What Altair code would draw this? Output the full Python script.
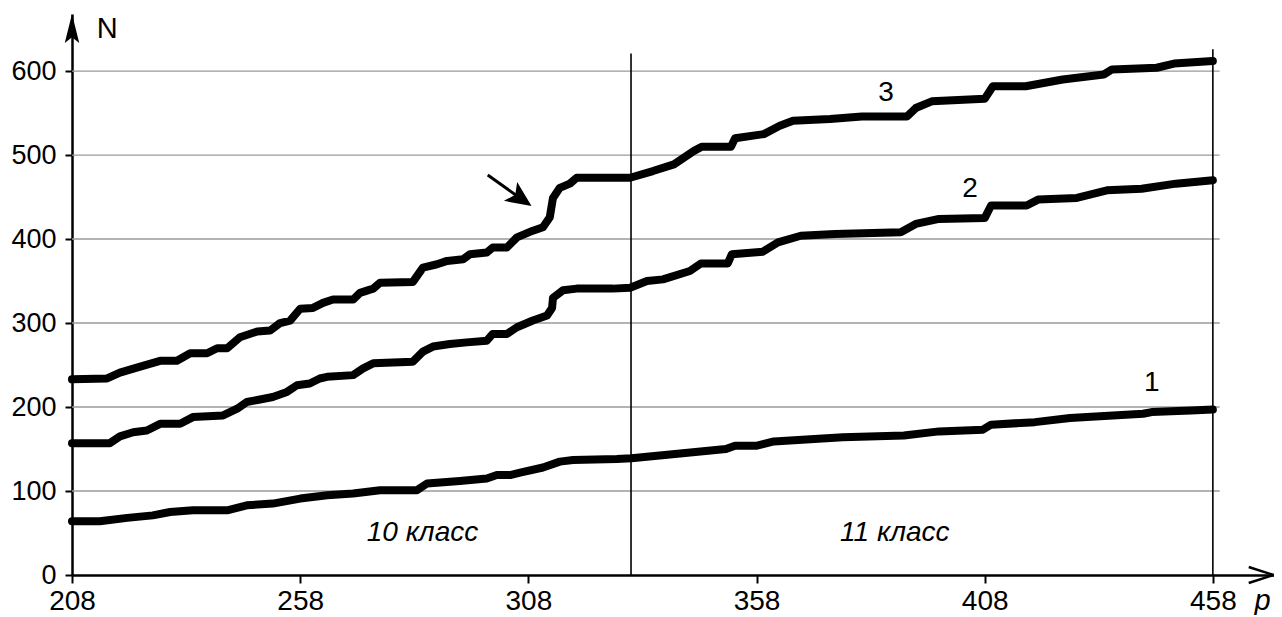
import altair as alt
import pandas as pd

# ---------------- data ----------------
P1 = [208.0, 214.1, 220.1, 225.7, 229.5, 234.5, 242.0, 246.3, 252.0, 258.0, 263.9, 269.6,
      275.5, 283.6, 285.8, 293.0, 298.9, 301.1, 304.0, 306.2, 311.2, 314.9, 317.8, 327.4,
      330.6, 337.9, 351.3, 353.3, 358.1, 361.8, 376.9, 390.3, 398.0, 407.6, 409.4, 419.0,
      426.7, 436.1, 442.7, 444.6, 453.2, 458.0]
N1 = [64, 64, 68, 71, 75, 77, 77, 83, 85, 91, 95, 97,
      101, 101, 109, 112, 115, 119, 119, 122, 128, 135, 137, 138,
      139, 143, 150, 154, 154, 159, 164, 166, 171, 173, 179, 182,
      187, 190, 192, 194, 196, 197]

P2 = [208.0, 216.3, 218.5, 221.4, 224.4, 227.3, 231.7, 234.5, 241.1, 244.2, 246.3, 249.2,
      252.0, 255.1, 257.3, 260.1, 262.3, 263.9, 269.6, 271.8, 274.0, 282.7, 284.9, 287.1,
      290.8, 294.5, 298.9, 300.2, 303.3, 305.5, 309.0, 312.1, 313.2, 313.4, 315.6, 318.6,
      326.5, 330.3, 334.0, 337.5, 343.4, 345.8, 351.7, 352.6, 359.4, 362.7, 367.7, 375.2,
      389.6, 392.9, 398.0, 408.0, 409.4, 417.2, 419.7, 428.2, 434.8, 442.4, 449.9, 458.0]
N2 = [157, 157, 165, 170, 172, 180, 180, 188, 190, 198, 206, 209,
      212, 218, 226, 228, 234, 236, 238, 246, 252, 254, 266, 272,
      275, 277, 279, 287, 287, 295, 303, 309, 318, 330, 339, 341,
      341, 342, 350, 352, 362, 371, 371, 382, 385, 396, 404, 406,
      408, 418, 424, 425, 440, 440, 447, 449, 458, 460, 466, 470]

P3 = [208.0, 215.7, 218.5, 222.2, 227.3, 231.0, 233.9, 237.6, 239.8, 242.0, 244.8, 248.6,
      251.4, 253.6, 255.8, 258.0, 260.8, 263.0, 265.2, 269.6, 271.1, 274.0, 275.5, 282.7,
      284.9, 288.0, 290.2, 293.7, 295.2, 298.9, 300.2, 303.3, 305.5, 309.0, 311.2, 312.7,
      313.4, 314.9, 317.1, 318.6, 330.3, 335.3, 339.9, 344.3, 346.0, 352.4, 353.3, 359.6,
      363.1, 366.0, 374.1, 381.1, 391.0, 392.9, 396.4, 408.0, 409.8, 417.0, 425.1, 434.1,
      435.9, 445.7, 449.5, 458.0]
N3 = [233, 234, 241, 247, 255, 255, 264, 264, 270, 270, 283, 290,
      291, 300, 303, 317, 318, 324, 328, 328, 336, 341, 348, 349,
      366, 370, 374, 376, 382, 384, 390, 390, 402, 410, 414, 426,
      449, 461, 466, 473, 473, 481, 489, 505, 510, 510, 520, 525,
      535, 541, 543, 546, 546, 556, 564, 567, 582, 582, 590, 596,
      602, 604, 609, 612]

X_TICKS = [208, 258, 308, 358, 408, 458]
Y_TICKS = [0, 100, 200, 300, 400, 500, 600]
SERIES_NAMES = ["1", "2", "3"]
CLASS_LABELS = ["10 класс", "11 класс"]
CLASS_BOUNDARY = 330.5
P_LAST = 458
AXIS_X_NAME = "p"
AXIS_Y_NAME = "N"

# ---------------- layout ----------------
FONT = "Liberation Sans"
X_DOMAIN = [208, 471.4]
Y_DOMAIN = [0, 668]

xs = alt.Scale(domain=X_DOMAIN, nice=False, zero=False)
ys = alt.Scale(domain=Y_DOMAIN, nice=False, zero=False)

x_axis = alt.Axis(values=X_TICKS, title=None, grid=False, labelFont=FONT, labelFontSize=28,
                  labelColor="black", tickColor="black", tickSize=8, tickWidth=2,
                  domainColor="black", domainWidth=2.5, labelPadding=4,
                  labelFlush=False, labelOverlap=False)
y_axis = alt.Axis(values=Y_TICKS, title=None, grid=False, labelFont=FONT, labelFontSize=27,
                  labelColor="black", tickColor="black", tickSize=7, tickWidth=2,
                  domainColor="black", domainWidth=2.5, labelPadding=9,
                  labelOverlap=False)


def X(field):
    return alt.X(f"{field}:Q", scale=xs, axis=x_axis)


def Y(field):
    return alt.Y(f"{field}:Q", scale=ys, axis=y_axis)


rows = []
for name, ps, ns in zip(SERIES_NAMES, [P1, P2, P3], [N1, N2, N3]):
    for p, n in zip(ps, ns):
        rows.append({"p": p, "N": n, "s": name})
series_df = pd.DataFrame(rows)

grid_df = pd.DataFrame({"N": Y_TICKS[1:], "p": [208] * 6, "p2": [459.5] * 6})
grid = alt.Chart(grid_df).mark_rule(color="#9a9a9a", strokeWidth=1.4).encode(
    x=X("p"), x2="p2", y=Y("N"))

vlines_df = pd.DataFrame({"p": [CLASS_BOUNDARY, P_LAST], "N": [0, 0], "N2": [621, 626]})
vlines = alt.Chart(vlines_df).mark_rule(color="black", strokeWidth=1.6).encode(
    x=X("p"), y=Y("N"), y2="N2")

lines = alt.Chart(series_df).mark_line(color="black", strokeWidth=8, strokeJoin="round",
                                       strokeCap="round").encode(
    x=X("p"), y=Y("N"), detail="s:N", order="p:Q")

# series numbers
num_df = pd.DataFrame({"p": [444.6, 404.8, 386.4], "N": [229, 460, 574], "t": SERIES_NAMES})
nums = alt.Chart(num_df).mark_text(font=FONT, fontSize=28, color="black",
                                   baseline="middle", align="center").encode(
    x=X("p"), y=Y("N"), text="t:N")

cls_df = pd.DataFrame({"p": [284.8, 388.3], "N": [50, 50], "t": CLASS_LABELS})
cls = alt.Chart(cls_df).mark_text(font=FONT, fontSize=28, fontStyle="italic", color="black",
                                  baseline="middle", align="center").encode(
    x=X("p"), y=Y("N"), text="t:N")

nlab_df = pd.DataFrame({"p": [215.7], "N": [650], "t": [AXIS_Y_NAME]})
nlab = alt.Chart(nlab_df).mark_text(font=FONT, fontSize=29, color="black",
                                    baseline="middle", align="center").encode(
    x=X("p"), y=Y("N"), text="t:N")

plab_df = pd.DataFrame({"p": [468.9], "N": [-31], "t": [AXIS_X_NAME]})
plab = alt.Chart(plab_df).mark_text(font=FONT, fontSize=29, fontStyle="italic", color="black",
                                    baseline="middle", align="center").encode(
    x=X("p"), y=Y("N"), text="t:N")

# axis arrowheads
yarrow_df = pd.DataFrame({"p": [208], "N": [650.6]})
yarrow = alt.Chart(yarrow_df).mark_point(
    shape="M0,-1L0.5,1L0,0.6L-0.5,1Z", size=841, filled=True, color="black",
    opacity=1, strokeWidth=0).encode(x=X("p"), y=Y("N"))

xarrow_df = pd.DataFrame({"p": [468.6], "N": [0]})
xarrow = alt.Chart(xarrow_df).mark_point(
    shape="M-1,-0.64L1,0L-1,0.64", size=625, filled=False, color="black",
    opacity=1, strokeWidth=2.5).encode(x=X("p"), y=Y("N"))

# pointer arrow
ptr_df = pd.DataFrame({"p": [299.1, 306.4], "N": [476.2, 448.0]})
ptr = alt.Chart(ptr_df).mark_line(color="black", strokeWidth=3).encode(
    x=X("p"), y=Y("N"), order="p:Q")
head_df = pd.DataFrame({"p": [306.4], "N": [448.0]})
head = alt.Chart(head_df).mark_point(
    shape="M1,0L-1,-0.9L-0.55,0L-1,0.9Z", size=655, angle=35, filled=True,
    color="black", opacity=1, strokeWidth=0).encode(x=X("p"), y=Y("N"))

chart = alt.layer(grid, vlines, lines, nums, cls, nlab, plab, yarrow, xarrow, ptr, head).properties(
    width=1202, height=561,
    autosize=alt.AutoSizeParams(type="none"),
    padding={"left": 64, "top": 6, "right": 0, "bottom": 40},
    background="white",
).configure_view(stroke=None)

chart.save("out.html", embed_options={"renderer": "svg", "actions": False})
